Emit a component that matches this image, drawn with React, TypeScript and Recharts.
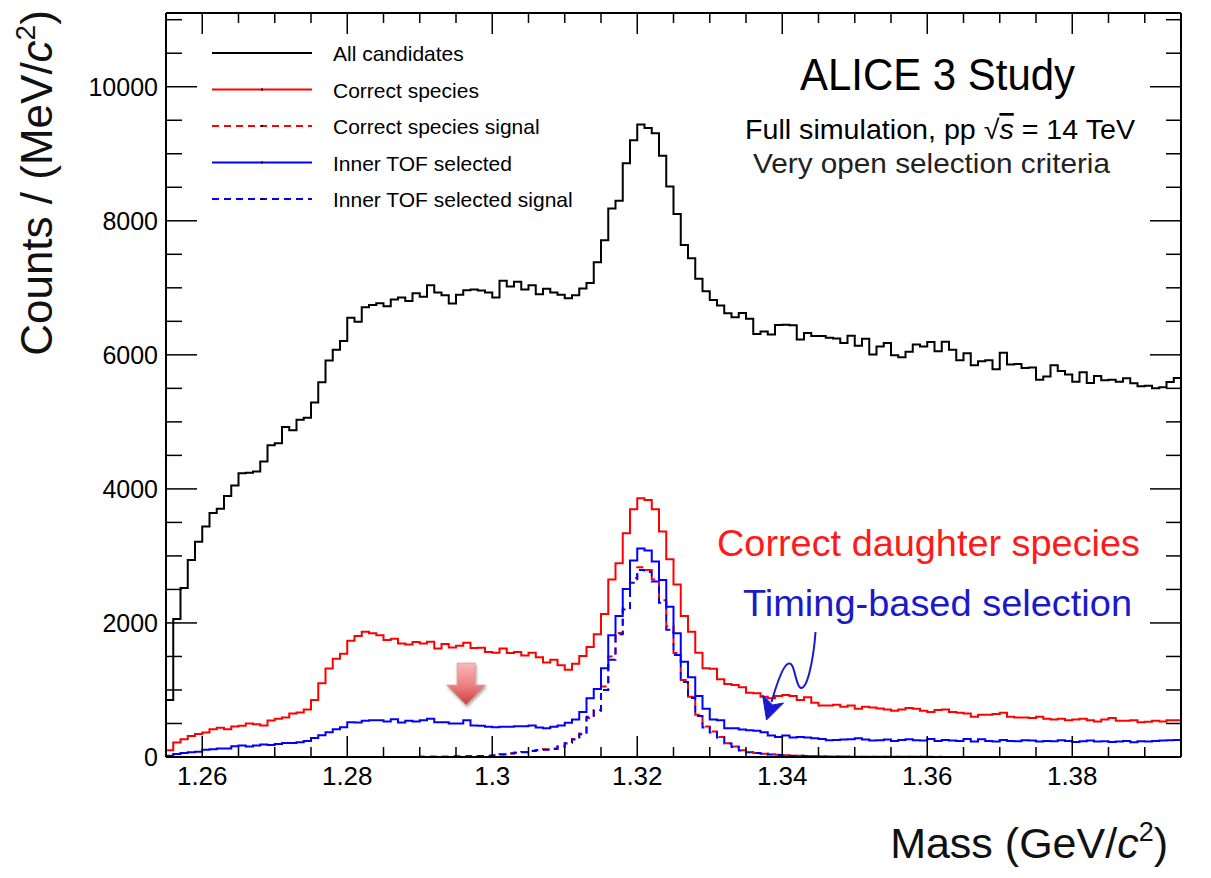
import React from "react";
import {
  ComposedChart,
  Line,
  XAxis,
  YAxis,
  Legend,
  ReferenceDot,
  Customized,
} from "recharts";

// histogram binning (GeV/c^2)
const binLow = 1.255;
const binWidth = 0.001;
const massMax = 1.395;

const allCandidates = [
  850, 2060, 2520, 2940, 3210, 3440, 3640, 3705, 3895, 4050,
  4235, 4240, 4260, 4410, 4650, 4680, 4925, 4875, 5030, 5060,
  5290, 5590, 5915, 6075, 6205, 6555, 6495, 6710, 6745, 6770,
  6725, 6825, 6855, 6805, 6920, 6865, 7040, 6930, 6890, 6765,
  6895, 6965, 6975, 6960, 6930, 6855, 7105, 7020, 7090, 6975,
  7040, 6905, 6985, 6930, 6895, 6845, 6890, 6990, 7070, 7380,
  7710, 8185, 8300, 8860, 9200, 9435, 9385, 9305, 8970, 8510,
  8100, 7640, 7440, 7135, 6950, 6820, 6735, 6620, 6560, 6625,
  6540, 6310, 6350, 6305, 6445, 6450, 6440, 6230, 6325, 6280,
  6280, 6255, 6245, 6175, 6285, 6135, 6240, 6005, 6125, 6175,
  5995, 5965, 6045, 6155, 6125, 6190, 6055, 6195, 6075, 5920,
  6025, 5845, 5905, 5920, 5785, 6030, 5855, 5865, 5805, 5810,
  5630, 5675, 5845, 5760, 5705, 5600, 5740, 5580, 5685, 5620,
  5630, 5600, 5650, 5575, 5530, 5540, 5500, 5515, 5595, 5655,
];

const correctSpecies = [
  100, 215, 265, 315, 345, 365, 415, 435, 415, 455,
  465, 500, 490, 470, 545, 570, 590, 650, 665, 710,
  850, 1100, 1320, 1465, 1540, 1735, 1805, 1870, 1845, 1815,
  1745, 1765, 1695, 1680, 1715, 1695, 1720, 1620, 1685, 1635,
  1660, 1705, 1625, 1630, 1565, 1555, 1620, 1550, 1565, 1515,
  1555, 1490, 1410, 1450, 1370, 1300, 1390, 1505, 1640, 1830,
  2135, 2650, 2890, 3340, 3695, 3860, 3835, 3695, 3365, 2950,
  2575, 2105, 1870, 1555, 1325, 1315, 1160, 1090, 1075, 1040,
  960, 950, 900, 875, 910, 925, 910, 850, 890, 810,
  770, 770, 780, 750, 770, 720, 750, 740, 725, 710,
  690, 710, 730, 720, 690, 670, 700, 710, 670, 660,
  650, 600, 630, 630, 640, 660, 600, 590, 590, 580,
  600, 570, 560, 570, 550, 560, 570, 550, 530, 560,
  580, 540, 540, 550, 520, 525, 540, 530, 550, 550,
];

const correctSignal = [
  0, 0, 0, 0, 0, 0, 0, 0, 0, 0,
  0, 0, 0, 0, 0, 0, 0, 0, 0, 0,
  0, 0, 0, 0, 0, 0, 0, 0, 0, 0,
  0, 0, 0, 0, 0, 2, 3, 4, 5, 6,
  8, 10, 12, 15, 20, 25, 40, 55, 65, 75,
  95, 105, 115, 125, 160, 210, 270, 350, 580, 700,
  1050, 1500, 1850, 2220, 2670, 2830, 2790, 2650, 2340, 1950,
  1550, 1150, 900, 630, 455, 380, 300, 205, 155, 100,
  75, 60, 50, 40, 32, 26, 22, 18, 15, 12,
  10, 8, 7, 6, 6, 5, 5, 4, 4, 3,
  3, 3, 2, 2, 2, 2, 2, 1, 1, 1,
  1, 1, 1, 1, 1, 1, 0, 0, 0, 0,
  0, 0, 0, 0, 0, 0, 0, 0, 0, 0,
  0, 0, 0, 0, 0, 0, 0, 0, 0, 0,
];

const tofSelected = [
  20, 45, 60, 70, 80, 110, 115, 125, 125, 160,
  170, 155, 170, 185, 180, 195, 210, 210, 220, 240,
  285, 325, 370, 415, 445, 520, 515, 540, 550, 550,
  530, 565, 515, 540, 530, 550, 570, 520, 520, 500,
  500, 550, 470, 465, 450, 445, 450, 450, 460, 460,
  470, 440, 430, 450, 470, 510, 560, 670, 875, 1015,
  1325, 1815, 2105, 2505, 2930, 3110, 3080, 2915, 2640, 2240,
  1845, 1420, 1190, 910, 720, 560, 550, 430, 430, 410,
  400, 390, 370, 320, 300, 320, 290, 300, 290, 280,
  270, 250, 255, 260, 265, 280, 260, 245, 250, 260,
  240, 255, 265, 250, 245, 270, 240, 255, 245, 240,
  270, 230, 265, 240, 230, 255, 240, 235, 250, 245,
  230, 240, 235, 250, 240, 225, 235, 245, 230, 235,
  225, 230, 240, 220, 235, 230, 240, 245, 250, 255,
];

const tofSignal = [
  0, 0, 0, 0, 0, 0, 0, 0, 0, 0,
  0, 0, 0, 0, 0, 0, 0, 0, 0, 0,
  0, 0, 0, 0, 0, 0, 0, 0, 0, 0,
  0, 0, 0, 0, 0, 2, 3, 4, 5, 6,
  8, 10, 12, 14, 18, 24, 38, 52, 62, 72,
  90, 100, 110, 120, 155, 200, 260, 340, 600, 690,
  1000, 1450, 1830, 2200, 2600, 2790, 2760, 2620, 2300, 1900,
  1520, 1120, 880, 610, 440, 365, 290, 200, 150, 98,
  72, 58, 48, 38, 30, 25, 20, 17, 14, 11,
  9, 8, 7, 6, 5, 5, 4, 4, 3, 3,
  3, 2, 2, 2, 2, 1, 1, 1, 1, 1,
  1, 1, 1, 1, 1, 0, 0, 0, 0, 0,
  0, 0, 0, 0, 0, 0, 0, 0, 0, 0,
  0, 0, 0, 0, 0, 0, 0, 0, 0, 0,
];

const xTickLabels = [1.26, 1.28, 1.3, 1.32, 1.34, 1.36, 1.38];
const yTickLabels = [0, 2000, 4000, 6000, 8000, 10000];
const yMax = 11100;

const series = [
  { key: "all", name: "All candidates", color: "#000000", dash: undefined },
  { key: "correct", name: "Correct species", color: "#ff0000", dash: undefined },
  { key: "correctSig", name: "Correct species signal", color: "#ff0000", dash: "7 5" },
  { key: "tof", name: "Inner TOF selected", color: "#0000ff", dash: undefined },
  { key: "tofSig", name: "Inner TOF selected signal", color: "#0000ff", dash: "7 5" },
];

// one row per bin low edge, plus the closing edge so the last step is drawn
const rows = allCandidates.map((v, i) => ({
  mass: Number((binLow + i * binWidth).toFixed(3)),
  all: v,
  correct: correctSpecies[i],
  correctSig: correctSignal[i],
  tof: tofSelected[i],
  tofSig: tofSignal[i],
}));
const n = allCandidates.length - 1;
rows.push({
  mass: massMax,
  all: allCandidates[n],
  correct: correctSpecies[n],
  correctSig: correctSignal[n],
  tof: tofSelected[n],
  tofSig: tofSignal[n],
});

// minor ticks every 0.005 in x, every 500 in y
const xTicks: number[] = [];
for (let k = 1; k < 28; k++) xTicks.push(Number((binLow + k * 0.005).toFixed(3)));
const yTicks: number[] = [];
for (let v = 0; v <= 11000; v += 500) yTicks.push(v);

const isMajorX = (v: number) => xTickLabels.some((t) => Math.abs(t - v) < 1e-6);
const isMajorY = (v: number) => yTickLabels.includes(v);

const FONT = "'Liberation Sans', Arial, Helvetica, sans-serif";

const BottomTick = (props: any) => {
  const { x, y, payload } = props;
  const major = isMajorX(payload.value);
  return (
    <g>
      <line x1={x} x2={x} y1={y} y2={y - (major ? 21 : 10)} stroke="#000" strokeWidth={1.5} />
      {major && (
        <text x={x} y={y + 28} textAnchor="middle" fontSize={26} fontFamily={FONT} fill="#000">
          {String(payload.value)}
        </text>
      )}
    </g>
  );
};

const TopTick = (props: any) => {
  const { x, y, payload } = props;
  const major = isMajorX(payload.value);
  return <line x1={x} x2={x} y1={y} y2={y + (major ? 21 : 10)} stroke="#000" strokeWidth={1.5} />;
};

const LeftTick = (props: any) => {
  const { x, y, payload } = props;
  const major = isMajorY(payload.value);
  return (
    <g>
      {payload.value > 0 && (
        <line x1={x} x2={x + (major ? 31 : 16)} y1={y} y2={y} stroke="#000" strokeWidth={1.5} />
      )}
      {major && (
        <text x={x - 8} y={y + 9} textAnchor="end" fontSize={25} fontFamily={FONT} fill="#000">
          {String(payload.value)}
        </text>
      )}
    </g>
  );
};

const RightTick = (props: any) => {
  const { x, y, payload } = props;
  if (payload.value === 0) return <g />;
  const major = isMajorY(payload.value);
  return <line x1={x} x2={x - (major ? 31 : 15)} y1={y} y2={y} stroke="#000" strokeWidth={1.5} />;
};

const renderLegend = (props: any) => {
  // keep only the five drawn histograms, once each
  const seen = new Set<string>();
  const payload = (props.payload || []).filter((e: any) => {
    if (e.type === "none" || seen.has(e.dataKey)) return false;
    if (!series.some((d) => d.key === e.dataKey)) return false;
    seen.add(e.dataKey);
    return true;
  });
  return (
    <svg width={420} height={200} style={{ overflow: "visible", display: "block" }}>
      {payload.map((entry: any, i: number) => {
        const s = series.find((d) => d.key === entry.dataKey) || series[i];
        const cy = 17 + i * 36.5;
        return (
          <g key={s.key}>
            <line x1={7} x2={107} y1={cy} y2={cy} stroke={s.color} strokeWidth={2} strokeDasharray={s.dash} />
            <line x1={56} x2={58} y1={cy} y2={cy} stroke="#000" strokeWidth={2} />
            <text x={128} y={cy + 8} fontSize={21} fontFamily={FONT} fill="#000">
              {s.name}
            </text>
          </g>
        );
      })}
    </svg>
  );
};

const PinkArrow = (props: any) => {
  const { cx, cy } = props;
  return (
    <g>
      <defs>
        <linearGradient id="pinkArrowFill" x1="0" y1="0" x2="0" y2="1">
          <stop offset="0%" stopColor="#f9b8b8" />
          <stop offset="55%" stopColor="#ec7f7f" />
          <stop offset="100%" stopColor="#c83c3c" />
        </linearGradient>
      </defs>
      <path
        d={`M ${cx - 9} ${cy - 42} L ${cx + 9} ${cy - 42} L ${cx + 9} ${cy - 20} L ${cx + 19.5} ${cy - 20} L ${cx} ${cy} L ${cx - 19.5} ${cy - 20} L ${cx - 9} ${cy - 20} Z`}
        fill="url(#pinkArrowFill)"
        stroke="#d9a0a0"
        strokeWidth={0.8}
        style={{ filter: "drop-shadow(1px 2px 1.5px rgba(0,0,0,0.35))" }}
      />
    </g>
  );
};

const BlueArrow = (props: any) => {
  const { cx, cy } = props;
  const p = (dx: number, dy: number) => `${cx + dx} ${cy + dy}`;
  return (
    <g>
      <path
        d={`M ${p(49, -88)} C ${p(47, -60)} ${p(40, -26)} ${p(33, -33)} C ${p(28, -40)} ${p(28, -60)} ${p(21, -56)} C ${p(15, -52)} ${p(9, -32)} ${p(5, -18)}`}
        fill="none"
        stroke="#1a1acc"
        strokeWidth={2}
      />
      <path
        d={`M ${p(0, 0)} L ${p(-4, -25)} L ${p(6, -15)} L ${p(17, -17)} Z`}
        fill="#1a1acc"
        stroke="#1a1acc"
        strokeWidth={1}
      />
    </g>
  );
};

const Annotations = () => (
  <g fontFamily={FONT}>
    <text x={0} y={0} transform="translate(52 183) rotate(-90)" textAnchor="middle" fontSize={44} fill="#111">
      Counts / (MeV/<tspan fontStyle="italic">c</tspan>
      <tspan dy={-17} fontSize={28}>2</tspan>
      <tspan dy={17}>)</tspan>
    </text>
    <text x={1168} y={858} textAnchor="end" fontSize={43} fill="#111">
      Mass (GeV/<tspan fontStyle="italic">c</tspan>
      <tspan dy={-17} fontSize={27}>2</tspan>
      <tspan dy={17}>)</tspan>
    </text>
    <text x={800} y={90} fontSize={44} fill="#000" textLength={275} lengthAdjust="spacingAndGlyphs">
      ALICE 3 Study
    </text>
    <text x={745} y={139} fontSize={27} fill="#000" textLength={390} lengthAdjust="spacingAndGlyphs">
      Full simulation, pp √<tspan fontStyle="italic" textDecoration="overline">s</tspan> = 14 TeV
    </text>
    <text x={753} y={173} fontSize={28} fill="#222" textLength={357} lengthAdjust="spacingAndGlyphs">
      Very open selection criteria
    </text>
    <text x={717} y={556} fontSize={37} fill="#ff1a1a" textLength={423} lengthAdjust="spacingAndGlyphs">
      Correct daughter species
    </text>
    <text x={743} y={616} fontSize={37} fill="#1a1acc" textLength={389} lengthAdjust="spacingAndGlyphs">
      Timing-based selection
    </text>
  </g>
);

export default function App() {
  return (
    <div style={{ position: "absolute", left: 0, top: 0, width: 1211, height: 878, background: "#fff" }}>
      <ComposedChart
        width={1211}
        height={878}
        data={rows}
        margin={{ top: 12, right: 29, bottom: 81, left: 106 }}
      >
        <XAxis
          dataKey="mass"
          type="number"
          domain={[binLow, massMax]}
          allowDataOverflow
          ticks={xTicks}
          interval={0}
          tickSize={0}
          tickMargin={0}
          tickLine={false}
          tick={(p: any) => <BottomTick {...p} />}
          axisLine={{ stroke: "#000", strokeWidth: 2 }}
          height={40}
        />
        <XAxis
          xAxisId="top"
          dataKey="mass"
          orientation="top"
          type="number"
          domain={[binLow, massMax]}
          allowDataOverflow
          ticks={xTicks}
          interval={0}
          tickSize={0}
          tickMargin={0}
          tickLine={false}
          tick={(p: any) => <TopTick {...p} />}
          axisLine={{ stroke: "#000", strokeWidth: 2 }}
          height={1}
        />
        <YAxis
          type="number"
          domain={[0, yMax]}
          allowDataOverflow
          ticks={yTicks}
          interval={0}
          tickSize={0}
          tickMargin={0}
          tickLine={false}
          tick={(p: any) => <LeftTick {...p} />}
          axisLine={{ stroke: "#000", strokeWidth: 2 }}
          width={60}
        />
        <YAxis
          yAxisId="right"
          orientation="right"
          type="number"
          domain={[0, yMax]}
          allowDataOverflow
          ticks={yTicks}
          interval={0}
          tickSize={0}
          tickMargin={0}
          tickLine={false}
          tick={(p: any) => <RightTick {...p} />}
          axisLine={{ stroke: "#000", strokeWidth: 2 }}
          width={1}
        />
        {/* invisible copy tied to the top/right axes so the frame axes get a domain */}
        <Line
          xAxisId="top"
          yAxisId="right"
          dataKey="all"
          stroke="none"
          dot={false}
          activeDot={false}
          legendType="none"
          isAnimationActive={false}
        />
        {series.map((s) => (
          <Line
            key={s.key}
            dataKey={s.key}
            name={s.name}
            type="stepAfter"
            stroke={s.color}
            strokeWidth={2}
            strokeDasharray={s.dash}
            dot={false}
            activeDot={false}
            isAnimationActive={false}
          />
        ))}
        <ReferenceDot x={1.2964} y={775} r={0} shape={(p: any) => <PinkArrow {...p} />} />
        <ReferenceDot x={1.33783} y={552} r={0} shape={(p: any) => <BlueArrow {...p} />} />
        <Legend
          layout="vertical"
          align="center"
          verticalAlign="middle"
          content={renderLegend}
          wrapperStyle={{ left: 205, top: 36, width: 420, height: 200 }}
        />
        <Customized component={Annotations} />
      </ComposedChart>
    </div>
  );
}
